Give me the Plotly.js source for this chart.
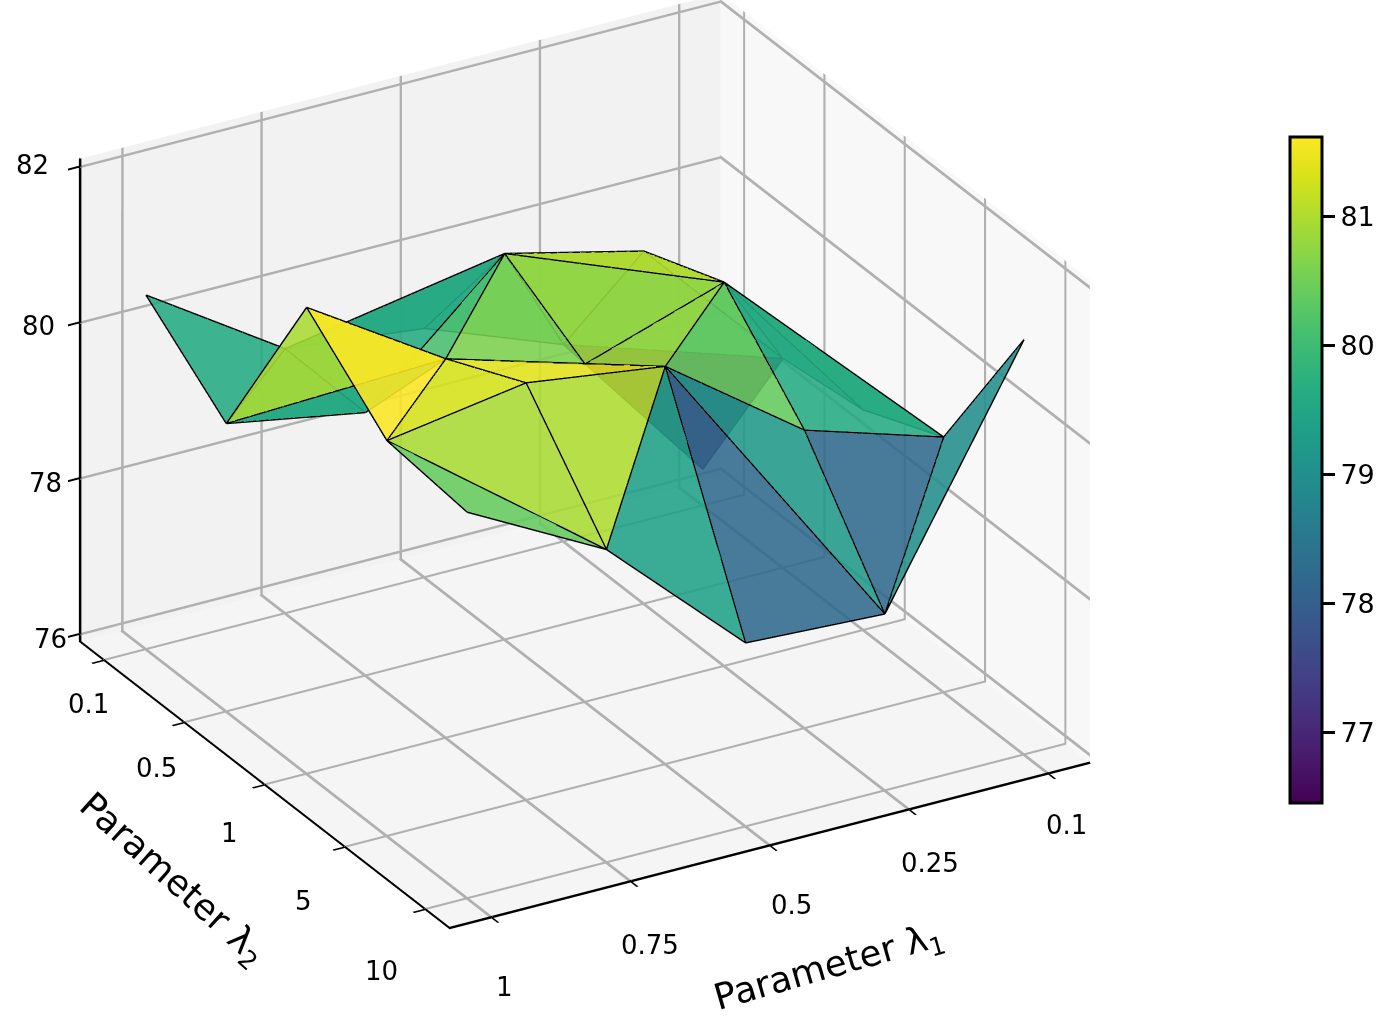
<!DOCTYPE html>
<html><head><meta charset="utf-8">
<script src="https://cdn.plot.ly/plotly-3.0.1.min.js"></script>
<style>html,body{margin:0;padding:0;background:#fff;overflow:hidden}#g{width:1390px;height:1021px}</style>
</head><body><div id="g"></div>
<script>
const lambda1Labels = ['1','0.75','0.5','0.25','0.1'];
const lambda2Labels = ['0.1','0.5','1','5','10'];
const accL2_01 = [80.45,79.30,79.10,78.43,76.37];
const accL2_05 = [79.60,79.28,80.86,80.43,78.59];
const accL2_1  = [81.89,80.77,80.24,80.83,78.73];
const accL2_5  = [80.98,81.26,81.01,79.73,79.18];
const accL2_10 = [80.86,79.92,78.26,78.17,81.23];
const zTicks = [76,78,80,82];
const faceA = [0,5,5,5,10,15,11,11,15,15,16,21,22,17,18,23,17,12,13,13,7,7,11,6,1,1,2,3,3,3,8,13];
const faceB = [5,1,6,10,15,16,16,12,20,16,17,17,17,18,19,19,13,13,18,14,12,8,7,7,6,2,3,7,8,4,13,9];
const faceC = [1,6,11,11,11,11,17,17,21,21,21,22,23,23,23,24,18,17,19,19,13,13,12,11,7,7,7,8,9,9,9,14];
const faceValues = [79.6,79.4,79.6,80.95,81.6,81.3,81.4,81.4,80.4,80.95,81.0,79.4,78.2,79.2,78.2,79.0,80.4,80.85,79.6,79.8,80.85,81.1,80.6,80.1,79.6,79.5,79.7,79.8,79.6,76.45,80.0,79.5];

const rows = [accL2_01,accL2_05,accL2_1,accL2_5,accL2_10];
const X=[],Y=[],Z=[];
rows.forEach((r,j)=>r.forEach((v,i)=>{X.push(i);Y.push(4-j);Z.push(v);}));
const eye = {x:-0.558,y:-0.967,z:0.5135};
const order = faceA.map((_,f)=>f).sort((p,q)=>{
  const d=f=>[faceA[f],faceB[f],faceC[f]].reduce((s,v)=>s+X[v]*eye.x+Y[v]*eye.y,0);
  return d(p)-d(q);
});
const ex=[],ey=[],ez=[],seen={};
faceA.forEach((_,f)=>{
  [[faceA[f],faceB[f]],[faceB[f],faceC[f]],[faceC[f],faceA[f]]].forEach(([a,b])=>{
    const k=Math.min(a,b)+'_'+Math.max(a,b);
    if(seen[k])return;seen[k]=1;
    ex.push(X[a],X[b],null);ey.push(Y[a],Y[b],null);ez.push(Z[a],Z[b],null);
  });
});
const xMin=-0.3,xMax=4.3,zMin=75.9,zMax=82.1;
const tickFont={family:'DejaVu Sans',size:26,color:'#000'};
const lab=(x,y,z,text,xshift,yshift)=>({x,y,z,text,xshift,yshift,showarrow:false,font:tickFont,xanchor:'center',yanchor:'middle'});
const sceneLabels=[].concat(
  lambda1Labels.map((t,n)=>lab(n,xMin,zMin,t,[13,19,22,21,18][n],[-70,-64,-60,-54,-52][n])),
  lambda2Labels.map((t,n)=>lab(xMin,4-n,zMin,t,[-16,-28,-35,-42,-44][n],[-44,-46,-48,-54,-62][n])),
  zTicks.map((t,n)=>lab(xMin,xMax,t,String(t),[-30,-35,-42,-48][n],[-5,-5,-4,1][n]))
);
const ax = {showbackground:true,gridcolor:'#b0b0b0',gridwidth:7,showline:true,linecolor:'#000',linewidth:5,
  zeroline:false,showspikes:false,ticks:'outside',ticklen:14,tickwidth:4,tickcolor:'#000',showticklabels:false,title:{text:''}};
const titleFont = {family:'DejaVu Sans',size:36,color:'#000'};
const layout = {
  width:1390,height:1021,margin:{l:0,r:0,t:0,b:0},paper_bgcolor:'#fff',showlegend:false,
  scene:{
    domain:{x:[0,0.842],y:[0.06,1]},
    aspectmode:'manual',aspectratio:{x:1.54,y:1.54,z:1.125},
    camera:{projection:{type:'orthographic'},eye:eye,up:{x:0,y:0,z:1},center:{x:0,y:0,z:-0.045}},
    xaxis:Object.assign({},ax,{range:[xMin,xMax],tickmode:'array',tickvals:[0,1,2,3,4],ticktext:lambda1Labels,backgroundcolor:'#f8f8f8'}),
    yaxis:Object.assign({},ax,{range:[xMin,xMax],tickmode:'array',tickvals:[4,3,2,1,0],ticktext:lambda2Labels,backgroundcolor:'#f2f2f2'}),
    zaxis:Object.assign({},ax,{range:[zMin,zMax],tickmode:'array',tickvals:zTicks,ticktext:zTicks.map(String),backgroundcolor:'#f5f5f5'}),
    annotations:sceneLabels
  },
  annotations:[
    {text:'Parameter λ<sub>1</sub>',xref:'paper',yref:'paper',x:829/1390,y:1-968/1021,textangle:-16,showarrow:false,font:titleFont,xanchor:'center',yanchor:'middle'},
    {text:'Parameter λ<sub>2</sub>',xref:'paper',yref:'paper',x:172/1390,y:1-880/1021,textangle:42,showarrow:false,font:titleFont,xanchor:'center',yanchor:'middle'}
  ]
};
const mesh = {type:'mesh3d',x:X,y:Y,z:Z,
  i:order.map(f=>faceA[f]),j:order.map(f=>faceB[f]),k:order.map(f=>faceC[f]),
  intensity:order.map(f=>faceValues[f]),intensitymode:'cell',
  colorscale:'Viridis',cmin:76.45,cmax:81.62,opacity:0.88,flatshading:true,
  lighting:{ambient:1,diffuse:0,specular:0,roughness:1,fresnel:0},hoverinfo:'skip',
  colorbar:{x:1290/1390,xanchor:'left',y:1-470/1021,yanchor:'middle',len:666/1021,lenmode:'fraction',thickness:32,thicknessmode:'pixels',
    outlinewidth:3,outlinecolor:'#000',ticks:'outside',ticklen:12,tickwidth:2.5,tickcolor:'#000',
    tickfont:{family:'DejaVu Sans',size:27,color:'#000'},tickvals:[77,78,79,80,81],xpad:0,ypad:0}
};
const lines = {type:'scatter3d',mode:'lines',x:ex,y:ey,z:ez,line:{color:'#000',width:3},showlegend:false,hoverinfo:'skip'};
Plotly.newPlot('g',[lines,mesh],layout,{displayModeBar:false});
</script></body></html>
